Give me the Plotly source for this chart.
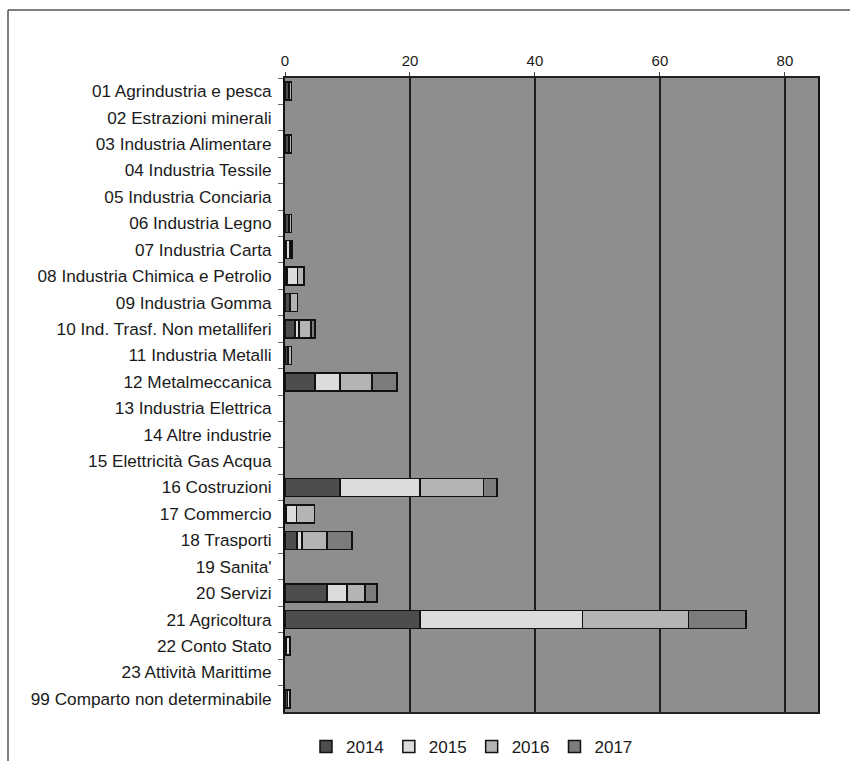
import plotly.graph_objects as go

categories = [
    "01 Agrindustria e pesca", "02 Estrazioni minerali", "03 Industria Alimentare",
    "04 Industria Tessile", "05 Industria Conciaria", "06 Industria Legno",
    "07 Industria Carta", "08 Industria Chimica e Petrolio", "09 Industria Gomma",
    "10 Ind. Trasf. Non metalliferi", "11 Industria Metalli", "12 Metalmeccanica",
    "13 Industria Elettrica", "14 Altre industrie", "15 Elettricità Gas Acqua",
    "16 Costruzioni", "17 Commercio", "18 Trasporti", "19 Sanita'", "20 Servizi",
    "21 Agricoltura", "22 Conto Stato", "23 Attività Marittime",
    "99 Comparto non determinabile",
]
v2014 = [0.6, 0, 0.6, 0, 0, 0.6, 0.2, 0.3, 0.8, 1.6, 0.5, 4.8, 0, 0, 0, 8.8, 0.2, 1.9, 0, 6.7, 21.6, 0.2, 0, 0.4]
v2015 = [0, 0, 0, 0, 0, 0, 0.6, 1.7, 0, 0.6, 0, 4.0, 0, 0, 0, 12.8, 1.6, 0.8, 0, 3.2, 26.0, 0.6, 0, 0.4]
v2016 = [0.4, 0, 0.4, 0, 0, 0.4, 0.3, 1.0, 1.2, 2.0, 0.5, 5.1, 0, 0, 0, 10.2, 2.9, 4.0, 0, 2.9, 17.0, 0, 0, 0]
v2017 = [0, 0, 0, 0, 0, 0, 0, 0, 0, 0.6, 0, 4.0, 0, 0, 0, 2.1, 0, 4.0, 0, 1.9, 9.2, 0, 0, 0]
years = ["2014", "2015", "2016", "2017"]
series = [v2014, v2015, v2016, v2017]
colors = ["#4d4d4d", "#dcdcdc", "#b4b4b4", "#7c7c7c"]

fig = go.Figure()
for name, vals, col in zip(years, series, colors):
    fig.add_trace(go.Bar(
        y=categories, x=[v if v > 0 else None for v in vals], name=name, orientation="h",
        marker=dict(color=col, line=dict(color="#111111", width=1.5)),
    ))

L, R, T, B = 285, 32, 78, 49
PW, PH = 850 - L - R, 761 - T - B

fig.update_layout(
    barmode="stack",
    bargap=0.32,
    width=850, height=761,
    margin=dict(l=L, r=R, t=T, b=B, autoexpand=False),
    paper_bgcolor="white",
    plot_bgcolor="#8e8e8e",
    font=dict(family="Liberation Sans, Arial, sans-serif", size=14, color="#1a1a1a"),
    legend=dict(orientation="h", x=(472 - L) / PW, y=-(747 - (T + PH)) / PH,
                xanchor="center", yanchor="middle",
                font=dict(size=17), traceorder="normal", itemwidth=30),
    showlegend=True,
)
fig.update_xaxes(
    side="top", range=[0, 85.3], tickvals=[0, 20, 40, 60, 80],
    showgrid=True, gridcolor="#1e1e1e", gridwidth=1.5,
    showline=True, linecolor="#222222", linewidth=2, mirror=True,
    ticks="outside", ticklen=4, tickcolor="#444444",
    zeroline=False, tickfont=dict(size=15),
)
fig.update_yaxes(
    autorange="reversed", categoryorder="array", categoryarray=categories,
    showline=True, linecolor="#111111", linewidth=2, mirror=True,
    ticks="outside", ticklen=5, tickcolor="#666666", tickson="boundaries",
    showgrid=False, tickfont=dict(size=17.2), ticklabelstandoff=8,
)

# outer frame of the scanned chart
fig.add_shape(type="line", xref="paper", yref="paper",
              x0=(8 - L) / PW, x1=(850 - L) / PW, y0=1 + (T - 10) / PH, y1=1 + (T - 10) / PH,
              line=dict(color="#555555", width=1.5))
fig.add_shape(type="line", xref="paper", yref="paper",
              x0=(8 - L) / PW, x1=(8 - L) / PW, y0=1 + (T - 10) / PH, y1=-B / PH,
              line=dict(color="#555555", width=1.5))

fig.write_html("out.html")
